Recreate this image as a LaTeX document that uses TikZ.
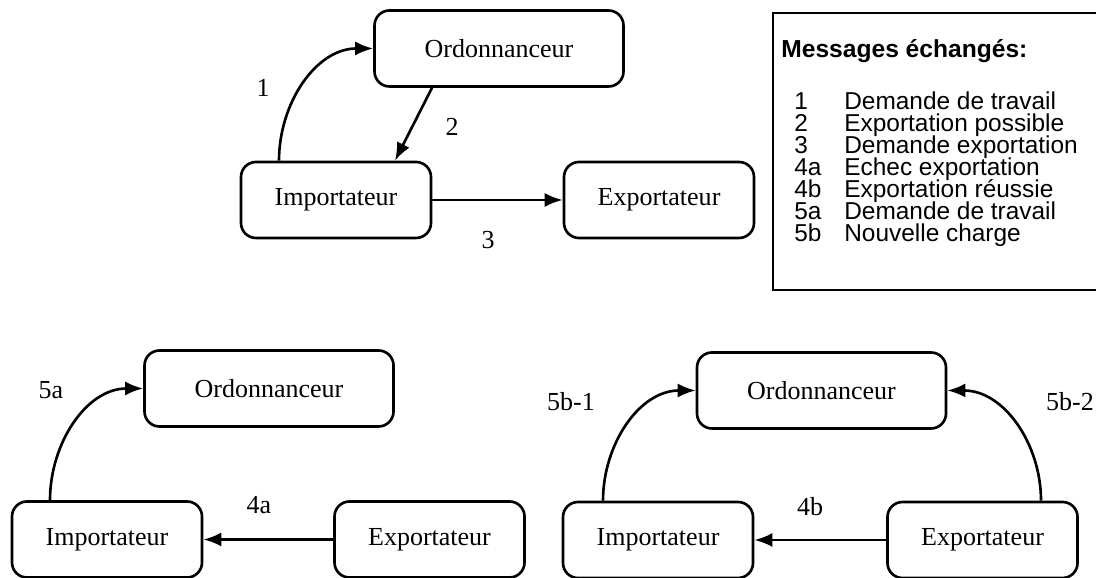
\documentclass[tikz,border=0pt]{standalone}
\usepackage{fontspec}
\setmainfont{Liberation Serif}
\setsansfont{Liberation Sans}
\usetikzlibrary{arrows.meta}

\tikzset{
  agent/.style={draw, rounded corners=0.3cm, line width=1.5pt, minimum height=1.52cm, font=\fontsize{14.8}{17}\selectfont},
  ordo/.style={agent, minimum width=4.98cm},
  proc/.style={agent, minimum width=3.8cm},
  msg/.style={font=\fontsize{14.8}{17}\selectfont},
  legtxt/.style={anchor=base west, inner sep=0pt, font=\sffamily\fontsize{13.9}{16}\selectfont}
}

\begin{document}
\begin{tikzpicture}[>={Latex[length=3.6mm,width=2.8mm]}, line width=1.5pt]
    \clip (0,0) rectangle (21.92,11.56);

    % premier echange
    \node[ordo] (Ordo1) at (9.98,10.59) {Ordonnanceur};
    \node[proc] (Imp1) at (6.72,7.56) {Importateur};
    \node[proc] (Exp1) at (13.18,7.56) {Exportateur};

    \draw [->] ([xshift=-1.14cm]Imp1.north) to[out=90,in=180] (Ordo1.west);
    \draw [->] ([xshift=-1.34cm]Ordo1.south) -- ([xshift=1.18cm]Imp1.north);
    \draw [->] (Imp1) -- (Exp1);

    \node[msg] (m1) at (5.26,9.80) {1};
    \node[msg] (m2) at (9.04,9.02) {2};
    \node[msg] (m3) at (9.76,6.76) {3};

    % echec
    \node[ordo] (Ordo2) at (5.38,3.79) {Ordonnanceur};
    \node[proc] (Imp2) at (2.14,0.77) {Importateur};
    \node[proc] (Exp2) at (8.59,0.77) {Exportateur};

    \draw [->] ([xshift=-1.14cm]Imp2.north) to[out=90,in=180] (Ordo2.west);
    \draw [->] (Exp2) -- (Imp2);

    \node[msg] (m5a) at (1.02,3.76) {5a};
    \node[msg] (m4a) at (5.18,1.46) {4a};

    % reussite
    \node[ordo] (Ordo3) at (16.43,3.75) {Ordonnanceur};
    \node[proc] (Imp3) at (13.16,0.76) {Importateur};
    \node[proc] (Exp3) at (19.65,0.76) {Exportateur};

    \draw [->] ([xshift=-1.10cm]Imp3.north) to[out=90,in=180] (Ordo3.west);
    \draw [->] ([xshift=1.17cm]Exp3.north) to[out=90,in=0] (Ordo3.east);
    \draw [->] (Exp3) -- (Imp3);

    \node[msg] (m5b1) at (11.42,3.52) {5b-1};
    \node[msg] (m5b2) at (21.40,3.52) {5b-2};
    \node[msg] (m4b) at (16.20,1.42) {4b};

    % legende
    \draw[line width=1.5pt] (15.46,5.76) rectangle (22.2,11.30);
    \node[legtxt, font=\sffamily\bfseries\fontsize{14}{16}\selectfont] (legtitle) at (15.6,10.40) {Messages échangés:};
    \foreach \num/\txt [count=\i] in {1/Demande de travail, 2/Exportation possible, 3/Demande exportation,
        4a/Echec exportation, 4b/Exportation réussie, 5a/Demande de travail, 5b/Nouvelle charge} {
        \node[legtxt] (num\i) at (15.86,9.80-0.44*\i) {\num};
        \node[legtxt] (txt\i) at (16.86,9.80-0.44*\i) {\txt};
    }
\end{tikzpicture}
\end{document}
